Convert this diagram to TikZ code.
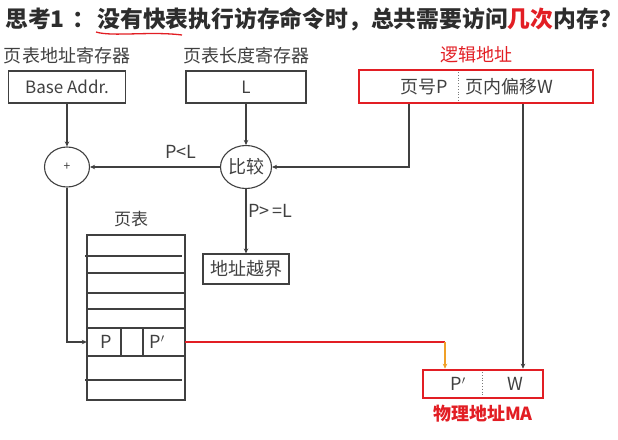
\documentclass[tikz,border=0pt]{standalone}
\usepackage{fontspec}
\setmainfont{Noto Sans CJK SC}
\usetikzlibrary{shapes.geometric, arrows.meta, positioning}
\definecolor{ink}{RGB}{64,64,64}
\definecolor{titleink}{RGB}{45,45,45}
\definecolor{alertred}{RGB}{226,30,36}
\definecolor{hintorange}{RGB}{240,160,40}

\begin{document}
\begin{tikzpicture}[
    x=1pt, y=-1pt,
    txt/.style={inner sep=0pt, text=ink, font=\fontsize{18}{20}\selectfont},
    regbox/.style={rectangle, draw=ink, line width=1.1pt, inner sep=0pt, text=ink, font=\fontsize{17}{20}\selectfont},
    addrbox/.style={rectangle, draw=alertred, line width=2.6pt, inner sep=0pt},
    ell/.style={ellipse, draw=ink, line width=1.1pt, inner sep=0pt, text=ink, font=\fontsize{18}{20}\selectfont},
    line/.style={draw=ink, line width=1.1pt},
    arrow/.style={line, -{Stealth[length=5pt, width=4.5pt]}},
    redline/.style={draw=alertred, line width=1.6pt},
    hintarrow/.style={draw=hintorange, line width=1.6pt, -{Stealth[length=5pt, width=4.5pt]}}
]
\useasboundingbox (0,0) rectangle (618,439);

% Title
\node[anchor=west, inner sep=0pt, text=titleink, font=\fontsize{22.8}{26}\selectfont\bfseries] (title) at (5,19)
    {思考1\hspace{8pt}：\hspace{2pt}没有快表执行访存命令时，总共需要访问\textcolor{alertred}{几次}内存？};
\coordinate (ul1) at (96,32);
\coordinate (ul2) at (182,35);
\draw[alertred, line width=1.3pt] (ul1) .. controls (112,37) and (150,31) .. (ul2);

% Registers
\node[regbox, minimum width=117pt, minimum height=32pt] (base) at (67,87) {Base Addr.};
\node[regbox, minimum width=120pt, minimum height=32pt] (len) at (246,87) {L};
\node[txt, above=6pt of base] (baselbl) {页表地址寄存器};
\node[txt, above=6pt of len] (lenlbl) {页表长度寄存器};

% Logical address
\node[addrbox, minimum width=234pt, minimum height=33pt] (logic) at (476,86.5) {};
\node[txt, text=alertred, above=6pt of logic] (logiclbl) {逻辑地址};
\draw[ink!70, line width=0.8pt, dotted] (458,72) -- (458,101);
\node[txt, anchor=east] (pagenum) at (448,87) {页号P};
\node[txt, anchor=west] (offset) at (465,87) {页内偏移W};
\coordinate (ptap) at (409,0);
\coordinate (wtap) at (523,0);

% Adder and comparator
\node[ell, minimum width=45pt, minimum height=40pt, font=\fontsize{12}{14}\selectfont] (add) at (67,167) {+};
\node[ell, minimum width=51pt, minimum height=43pt] (cmp) at (246,167) {比较};

% Bound error
\node[regbox, minimum width=86pt, minimum height=30pt, font=\fontsize{18}{20}\selectfont] (err) at (246,269) {地址越界};

% Page table
\node[txt, font=\fontsize{17}{20}\selectfont] (ptlbl) at (131,219) {页表};
\node[rectangle, draw=ink, line width=1.1pt, minimum width=98pt, minimum height=165pt] (pt) at (136,317.5) {};
\foreach \y in {273,293,309,328,356}
    \draw[line] (87,\y) -- (185,\y);
\foreach \y in {256,380}
    \draw[line] (85,\y) -- (182,\y);
\draw[line] (121,328) -- (121,356);
\draw[line] (143,328) -- (143,356);
\node[minimum width=98pt, minimum height=28pt, inner sep=0pt] (prow) at (136,342) {};
\node[txt] (pcell) at (106.5,342) {P};
\node[txt] (pframe) at (157,342) {P$'$};

% Physical address
\node[addrbox, minimum width=120pt, minimum height=28pt] (phys) at (483,384) {};
\draw[ink!70, line width=0.8pt, dotted] (482,372) -- (482,396);
\node[txt] (physp) at (458,384) {P$'$};
\node[txt] (physw) at (515,384) {W};
\node[txt, text=alertred, font=\fontsize{18}{20}\selectfont\bfseries, below=6pt of phys] (physlbl) {物理地址MA};
\coordinate (frametap) at (445,342);

% Arrows
\draw[arrow] (base) -- (add);
\draw[arrow] (len) -- (cmp);
\draw[arrow] (logic.south -| ptap) |- (cmp.east);
\draw[arrow] (cmp) -- node[txt, pos=0.3, above=8pt] (less) {P<L} (add);
\draw[arrow] (cmp) -- node[txt, pos=0.34, right=2pt] (geq) {P>\,=L} (err);
\draw[arrow] (add) |- (prow.west);
\draw[redline] (prow.east) -- (frametap);
\draw[hintarrow] (frametap) -- (frametap |- phys.north);
\draw[arrow] (logic.south -| wtap) -- (phys.north -| wtap);

\end{tikzpicture}
\end{document}
